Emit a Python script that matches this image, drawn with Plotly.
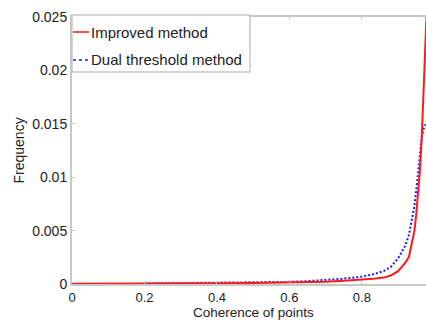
import plotly.graph_objects as go

# ---- data ----
coherence = [0.0, 0.1, 0.2, 0.3, 0.4, 0.5, 0.6, 0.65, 0.7, 0.75, 0.8, 0.83, 0.86, 0.88,
             0.9, 0.91, 0.92, 0.93, 0.94, 0.945, 0.95, 0.955, 0.96, 0.965, 0.97, 0.975, 0.98]
improved = [0.00002, 0.00002, 0.00004, 0.00006, 0.00008, 0.0001, 0.00014, 0.00018, 0.00022,
            0.0003, 0.0004, 0.00048, 0.0006, 0.0008, 0.0012, 0.0016, 0.002, 0.00255,
            0.0041, 0.005, 0.0065, 0.0082, 0.0105, 0.0135, 0.0175, 0.022, 0.0265]
dual = [None, None, 0.00005, 0.00007, 0.0001, 0.00013, 0.0002, 0.00027, 0.00035, 0.0005,
        0.0007, 0.0009, 0.0012, 0.0016, 0.0024, 0.003, 0.0036, 0.0046, 0.0063, 0.0073,
        0.0087, 0.0106, 0.0124, 0.0137, 0.0145, 0.0149, 0.0152]

x_ticks = [0, 0.2, 0.4, 0.6, 0.8]
x_tick_labels = ["0", "0.2", "0.4", "0.6", "0.8"]
y_ticks = [0, 0.005, 0.01, 0.015, 0.02, 0.025]
y_tick_labels = ["0", "0.005", "0.01", "0.015", "0.02", "0.025"]
series_names = ["Improved method", "Dual threshold method"]
x_title = "Coherence of points"
y_title = "Frequency"

FONT = "Liberation Sans, Arial, sans-serif"
TXT = "#222222"
AX = "#c8c8c8"

fig = go.Figure()
fig.add_trace(go.Scatter(x=coherence, y=dual, mode="lines", name=series_names[1],
                         line=dict(color="#1a1aff", width=2, dash="2px,2px")))
fig.add_trace(go.Scatter(x=coherence, y=improved, mode="lines", name=series_names[0],
                         line=dict(color="#ff1a1a", width=2)))

fig.update_layout(
    width=426, height=321,
    margin=dict(l=72, r=0, t=17, b=37),
    paper_bgcolor="white", plot_bgcolor="white",
    showlegend=False,
    font=dict(family=FONT, size=14, color=TXT),
    xaxis=dict(range=[0, 0.977], tickvals=x_ticks, ticktext=x_tick_labels,
               showgrid=False, zeroline=False, showline=True, linecolor=AX, linewidth=2,
               mirror="ticks", ticks="inside", ticklen=3, tickcolor=AX,
               tickfont=dict(size=13, color=TXT)),
    yaxis=dict(range=[0, 0.025], tickvals=y_ticks, ticktext=y_tick_labels,
               showgrid=False, zeroline=False, showline=True, linecolor=AX, linewidth=2,
               ticks="inside", ticklen=3, tickcolor=AX,
               tickfont=dict(size=14, color=TXT)),
)

# axis titles
fig.add_annotation(text=x_title, x=0.5, xref="x", y=0, yref="paper", yanchor="top",
                   yshift=-19, showarrow=False, font=dict(size=13.5, color=TXT))
fig.add_annotation(text=y_title, x=0, xref="paper", xanchor="center", xshift=-54,
                   y=0.5, yref="paper", textangle=-90, showarrow=False,
                   font=dict(size=14, color=TXT))

# manual legend box
fig.add_shape(type="rect", xref="paper", yref="paper", x0=0, x1=178 / 354,
              y0=1 - 55 / 267, y1=1 + 2 / 267, line=dict(color=AX, width=1.5),
              fillcolor="white", layer="above")
legend_colors = ["#ff1a1a", "#1a1aff"]
legend_dash = ["solid", "dot"]
for i, name in enumerate(series_names):
    yc = 1 - (15 + 28 * i) / 267
    fig.add_shape(type="line", xref="paper", yref="paper", x0=1 / 354, x1=17 / 354,
                  y0=yc, y1=yc, line=dict(color=legend_colors[i], width=1.5, dash=legend_dash[i]),
                  layer="above")
    fig.add_annotation(text=name, xref="paper", yref="paper", x=17 / 354, y=yc,
                       xanchor="left", yanchor="middle", showarrow=False,
                       font=dict(size=15, color=TXT))

fig.write_html("out.html", config={"displayModeBar": False},
               post_script="document.body.style.margin='0';")
